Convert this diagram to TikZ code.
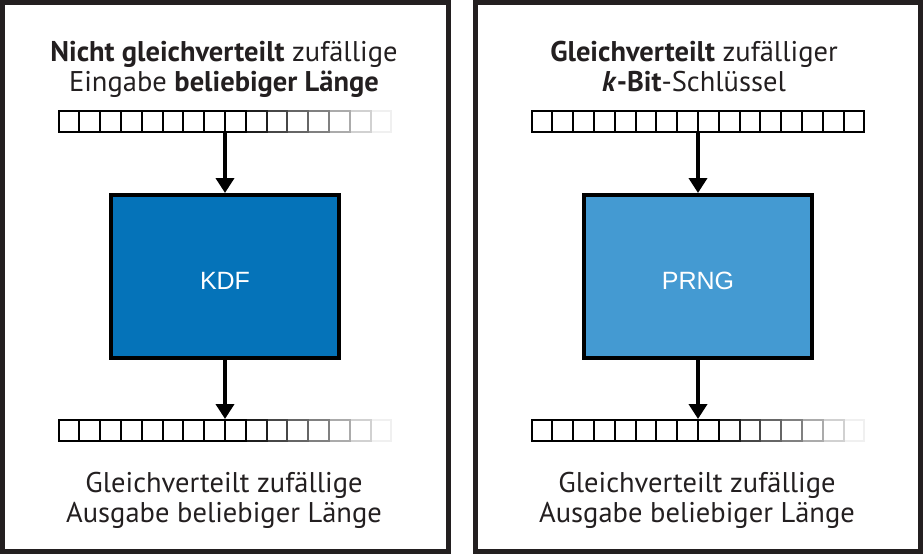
\documentclass[tikz,border=0pt]{standalone}
\usepackage{fontspec}
\setmainfont{PT Sans}
\newfontfamily\boxfont{Liberation Sans}
\usetikzlibrary{arrows.meta,positioning}

\definecolor{kdfblue}{RGB}{5,115,185}
\definecolor{prngblue}{RGB}{68,154,210}
\definecolor{inkblack}{RGB}{35,31,32}

\tikzset{
	panel/.style={draw=inkblack, line width=5pt},
	func/.style={draw=black, line width=4pt, minimum width=228pt, minimum height=163pt,
		inner sep=0pt, text=white, text height=26pt, font=\boxfont\fontsize{25}{30}\selectfont},
	strip/.style={minimum width=335pt, minimum height=23pt, inner sep=0pt, outer sep=0pt},
	cell/.style={line width=2pt},
	flow/.style={line width=4.5pt, -{Triangle[width=18pt,length=15pt]}},
	caption/.style={align=center, text=inkblack, inner sep=0pt, anchor=base,
		font=\fontsize{28.5}{30}\selectfont}
}

% #1 strip node, #2 shades of the cells, right to left
\newcommand{\bitcells}[2]{%
	\foreach \s [count=\n] in {#2} {
		\pgfmathtruncatemacro{\i}{16-\n}
		\draw[cell, draw=black!\s, shift={(#1.north west)}] (\i*20.8+1,1) rectangle ++(20.8,21);
	}
}

\begin{document}
\begin{tikzpicture}[x=1pt, y=-1pt]

	\useasboundingbox (0,0) rectangle (923,554);

	\draw[panel] (2.5,2.5) rectangle (448.5,551.5);
	\draw[panel] (475.5,2.5) rectangle (920.5,551.5);

	\node (titleL) [caption] at (224,91) {\textbf{Nicht gleichverteilt} zufällige\\Eingabe \textbf{beliebiger Länge}};
	\node (inL) [strip] at (225,121.5) {};
	\node (kdf) [func, fill=kdfblue] at (225,276.5) {KDF};
	\node (outL) [strip] at (225,430.5) {};
	\node (captionL) [caption] at (224,522) {Gleichverteilt zufällige\\Ausgabe beliebiger Länge};

	\node (titleR) [caption] at (694,91) {\textbf{Gleichverteilt} zufälliger\\\textbf{\textit{k}-Bit}-Schlüssel};
	\node (inR) [strip] at (698,121.5) {};
	\node (prng) [func, fill=prngblue] at (698,276.5) {PRNG};
	\node (outR) [strip] at (698,430.5) {};
	\node (captionR) [caption] at (697,522) {Gleichverteilt zufällige\\Ausgabe beliebiger Länge};

	\bitcells{inL}{6,18,33,50,60,72,88,100,100,100,100,100,100,100,100,100}
	\bitcells{outL}{6,18,33,50,60,72,88,100,100,100,100,100,100,100,100,100}
	\bitcells{inR}{100,100,100,100,100,100,100,100,100,100,100,100,100,100,100,100}
	\bitcells{outR}{6,18,33,50,60,72,88,100,100,100,100,100,100,100,100,100}

	\path[flow]
	(inL.south) edge (kdf.north)
	(kdf.south) edge (outL.north)
	(inR.south) edge (prng.north)
	(prng.south) edge (outR.north);

\end{tikzpicture}
\end{document}
